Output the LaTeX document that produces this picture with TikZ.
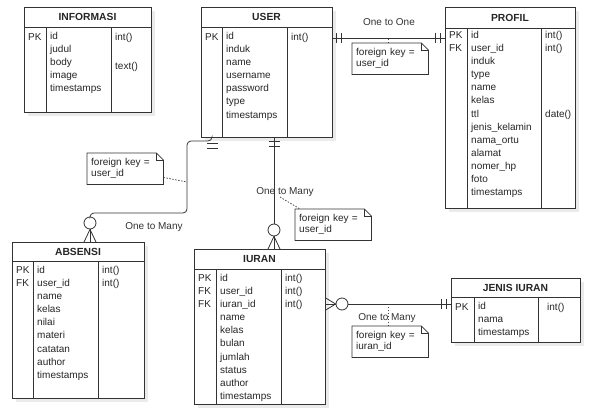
\documentclass[tikz,border=0pt]{standalone}
\usepackage{fontspec}
\setmainfont{Liberation Sans}
\usetikzlibrary{shadows,calc}
\begin{document}
\begin{tikzpicture}[x=1pt,y=-1pt,
  tbl/.style={draw=black!80, line width=0.8pt, fill=white, rectangle, inner sep=0pt, anchor=north west,
    general shadow={shadow xshift=4pt, shadow yshift=-4pt, fill=black!8}},
  ttl/.style={font=\bfseries\fontsize{10.3}{12}\selectfont, inner sep=0pt, text=black!85},
  col/.style={anchor=north west, align=left, inner sep=0pt, text=black!85,
    font=\fontsize{10}{13.1}\selectfont, execute at begin node={\rule{0pt}{8pt}}},
  sep/.style={draw=black!80, line width=0.8pt},
  conn/.style={draw=black!80, line width=0.8pt},
  bar/.style={draw=black!80, line width=0.8pt},
  circ/.style={circle, draw=black!80, line width=0.8pt, fill=white, minimum size=12pt, inner sep=0pt},
  notebox/.style={anchor=north west, minimum width=76pt, minimum height=31pt, text width=68pt, inner xsep=4pt, inner ysep=0pt,
    align=left, font=\fontsize{10}{11}\selectfont, text=black!85},
  notel/.style={draw=black!80, line width=0.7pt, fill=white},
  dots/.style={draw=black!75, line width=0.7pt, dash pattern=on 1.5pt off 1.5pt},
  lbl/.style={font=\fontsize{10}{12}\selectfont, inner sep=0pt, text=black!80}
]
\useasboundingbox[fill=white] (0,0) rectangle (597,410);

% ---------- INFORMASI ----------
\node[tbl, minimum width=127pt, minimum height=105pt] (info) at (24,7) {};
\draw[sep] (24,27) -- (151,27) (46,27) -- (46,112) (111,27) -- (111,112);
\node[ttl] (infot) at (87.5,17) {INFORMASI};
\node[col] (infok) at (28,32) {PK};
\node[col] (infon) at (50,32) {id\\judul\\body\\image\\timestamps};
\node[col] (infoy) at (115,32) {int()};
\node[col] (infoy2) at (115,61) {text()};

% ---------- USER ----------
\node[tbl, minimum width=131pt, minimum height=130pt] (user) at (201,7) {};
\draw[sep] (201,27) -- (332,27) (222,27) -- (222,137) (287,27) -- (287,137);
\node[ttl] (usert) at (266.5,17) {USER};
\node[col] (userk) at (205,32) {PK};
\node[col] (usern) at (226,32) {id\\induk\\name\\username\\password\\type\\timestamps};
\node[col] (usery) at (291,32) {int()};

% ---------- PROFIL ----------
\node[tbl, minimum width=130pt, minimum height=201pt] (profil) at (445,7) {};
\draw[sep] (445,28) -- (575,28) (467,28) -- (467,208) (541,28) -- (541,208);
\node[ttl] (profilt) at (510,17.5) {PROFIL};
\node[col] (profilk) at (449,31) {PK\\FK};
\node[col] (profiln) at (471,31) {id\\user\_id\\induk\\type\\name\\kelas\\ttl\\jenis\_kelamin\\nama\_ortu\\alamat\\nomer\_hp\\foto\\timestamps};
\node[col] (profily) at (545,31) {int()\\int()\\ \\ \\ \\ \\date()};

% ---------- ABSENSI ----------
\node[tbl, minimum width=132pt, minimum height=156pt] (absensi) at (12,242) {};
\draw[sep] (12,261) -- (144,261) (33,261) -- (33,398) (98,261) -- (98,398);
\node[ttl] (absensit) at (78,251.5) {ABSENSI};
\node[col] (absensik) at (16,266) {PK\\FK};
\node[col] (absensin) at (37,266) {id\\user\_id\\name\\kelas\\nilai\\materi\\catatan\\author\\timestamps};
\node[col] (absensiy) at (102,266) {int()\\int()};

% ---------- IURAN ----------
\node[tbl, minimum width=131pt, minimum height=155pt] (iuran) at (194,249) {};
\draw[sep] (194,269) -- (325,269) (216,269) -- (216,404) (281,269) -- (281,404);
\node[ttl] (iurant) at (259.5,259) {IURAN};
\node[col] (iurank) at (198,274) {PK\\FK\\FK};
\node[col] (iurann) at (220,274) {id\\user\_id\\iuran\_id\\name\\kelas\\bulan\\jumlah\\status\\author\\timestamps};
\node[col] (iurany) at (285,274) {int()\\int()\\int()};

% ---------- JENIS IURAN ----------
\node[tbl, minimum width=129pt, minimum height=64pt] (jenis) at (451,278) {};
\draw[sep] (451,297) -- (580,297) (474,297) -- (474,342) (538,297) -- (538,342);
\node[ttl] (jenist) at (515.5,287.5) {JENIS IURAN};
\node[col] (jenisk) at (455,302) {PK};
\node[col] (jenisn) at (478,302) {id\\nama\\timestamps};
\node[col] (jenisy) at (547,302) {int()};

% ---------- notes ----------
\newcommand{\drawnote}[1]{%
  \draw[notel] (#1.north west) -- ([xshift=-7pt]#1.north east) -- ([yshift=-7pt]#1.north east)
    -- (#1.south east) -- (#1.south west) -- cycle;
  \draw[notel, fill=none] ([xshift=-7pt]#1.north east) -- ([xshift=-7pt,yshift=-7pt]#1.north east)
    -- ([yshift=-7pt]#1.north east);}

% ---------- USER - PROFIL (one to one) ----------
\draw[conn] ($(user.north east)+(0,31)$) -- ($(profil.north west)+(0,31)$);
\draw[bar] ($(user.north east)+(4,26)$) -- ++(0,10);
\draw[bar] ($(user.north east)+(9,26)$) -- ++(0,10);
\draw[bar] ($(profil.north west)+(-10,26)$) -- ++(0,10);
\draw[bar] ($(profil.north west)+(-5,26)$) -- ++(0,10);
\node[lbl] (l1) at (389,22) {One to One};
\node[notebox] (n1) at (352,43) {};
\drawnote{n1}
\node[notebox] (n1t) at (352,43) {foreign key =\\user\_id};
\draw[dots] ($(n1.north west)+(36,0)$) -- ++(0,-5);

% ---------- USER - ABSENSI (one to many) ----------
\node[circ] (o1) at (90,223) {};
\draw[conn, rounded corners=4pt] ($(user.south west)+(11,0)$) |- (187,141) |- (o1.north |- 0,213) -- (o1.north);
\draw[bar] (207,143) -- (218,143);
\draw[bar] (207,148) -- (218,148);
\draw[conn] (o1.south) -- ($(absensi.north west)+(72,0)$);
\draw[conn] (o1.south) -- ($(absensi.north west)+(78,0)$);
\draw[conn] (o1.south) -- ($(absensi.north west)+(84,0)$);
\node[lbl] (l2) at (154,227) {One to Many};
\node[notebox] (n2) at (87,153) {};
\drawnote{n2}
\node[notebox] (n2t) at (87,153) {foreign key =\\user\_id};
\draw[dots] ($(n2.south east)+(0,-7)$) -- (187,182);

% ---------- USER - IURAN (one to many) ----------
\node[circ] (o2) at (274,230) {};
\draw[conn] ($(user.south west)+(73,0)$) -- (o2.north);
\draw[bar] (268.5,141) -- (279.5,141);
\draw[bar] (268.5,146) -- (279.5,146);
\draw[conn] (o2.south) -- ($(iuran.north west)+(74,0)$);
\draw[conn] (o2.south) -- ($(iuran.north west)+(80,0)$);
\draw[conn] (o2.south) -- ($(iuran.north west)+(86,0)$);
\node[lbl] (l3) at (285,192) {One to Many};
\node[notebox] (n3) at (295,209) {};
\drawnote{n3}
\node[notebox] (n3t) at (295,209) {foreign key =\\user\_id};
\draw[dots] (280,197) -- ($(n3.north west)+(5,0)$);

% ---------- IURAN - JENIS IURAN (one to many) ----------
\node[circ] (o3) at (342,304) {};
\draw[conn] (o3.east) -- ($(jenis.north west)+(0,26)$);
\draw[conn] (o3.west) -- ($(iuran.north east)+(0,49)$);
\draw[conn] (o3.west) -- ($(iuran.north east)+(0,55)$);
\draw[conn] (o3.west) -- ($(iuran.north east)+(0,61)$);
\draw[bar] ($(jenis.north west)+(-10,21)$) -- ++(0,10);
\draw[bar] ($(jenis.north west)+(-5,21)$) -- ++(0,10);
\node[notebox] (n4) at (352,326) {};
\drawnote{n4}
\node[notebox] (n4t) at (352,326) {foreign key =\\iuran\_id};
\draw[dots] ($(n4.north west)+(36,0)$) -- ++(0,-22);
\node[lbl] (l4) at (387,318) {One to Many};
\end{tikzpicture}
\end{document}
